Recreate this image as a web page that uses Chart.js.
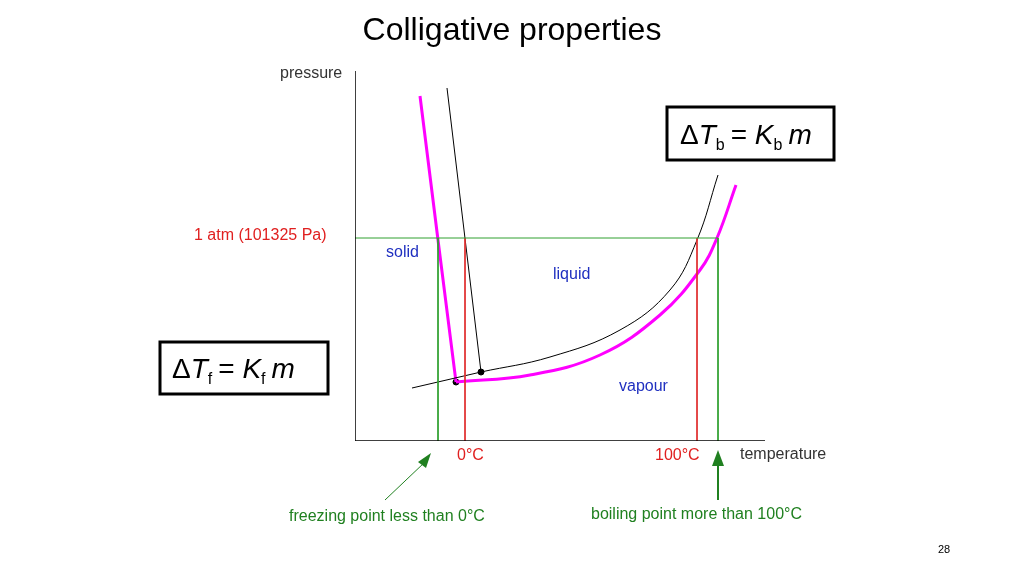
<!DOCTYPE html><html><head><meta charset="utf-8">
<script src="https://cdn.jsdelivr.net/npm/chart.js@4"></script>
<style>html,body{margin:0;background:#fff}#w{width:1024px;height:575px}</style></head><body><div id="w"><canvas id="c"></canvas></div>
<script>
// coordinates in diagram units (temperature right, pressure up)
const pureMelt=[{x:92,y:353},{x:126,y:69}];
const solnMelt=[{x:65,y:345},{x:83,y:201},{x:101,y:59}];
const sublim=[{x:57,y:53},{x:126,y:69}];
const pureVap=[{x:126,y:69},{x:195,y:84},{x:265,y:111},{x:315,y:151},{x:342,y:201},{x:363,y:266}];
const solnVap=[{x:101,y:59},{x:175,y:66},{x:245,y:86},{x:305,y:126},{x:345,y:171},{x:362,y:203},{x:381,y:256}];
const atmLine=[{x:0,y:203},{x:363,y:203}];
const greenV1=[{x:83,y:203},{x:83,y:0}];
const greenV2=[{x:363,y:203},{x:363,y:0}];
const redV1=[{x:110,y:203},{x:110,y:0}];
const redV2=[{x:342,y:203},{x:342,y:0}];
const yAxis=[{x:0,y:0},{x:0,y:370}];
const xAxis=[{x:0,y:0},{x:410,y:0}];
const triplePts=[{x:101,y:59},{x:126,y:69}];
const L=(d,c,w,t)=>({data:d,borderColor:c,borderWidth:w,showLine:true,pointRadius:0,tension:t||0,fill:false});
const ann={id:'ann',afterDraw(ch){const g=ch.ctx;g.save();
const t=(s,x,y,c,f,a)=>{g.fillStyle=c;g.font=f;g.textAlign=a||'left';g.textBaseline='middle';g.fillText(s,x,y);};
t('Colligative properties',512,31,'#000','32px "Liberation Sans"','center');
t('pressure',280,74,'#333','16px "Liberation Sans"');
t('1 atm (101325 Pa)',194,236,'#e02020','16px "Liberation Sans"');
t('solid',386,253,'#2030c0','16px "Liberation Sans"');
t('liquid',553,275,'#2030c0','16px "Liberation Sans"');
t('vapour',619,387,'#2030c0','16px "Liberation Sans"');
t('0°C',457,456,'#e02020','16px "Liberation Sans"');
t('100°C',655,456,'#e02020','16px "Liberation Sans"');
t('temperature',740,455,'#333','16px "Liberation Sans"');
t('freezing point less than 0°C',289,517,'#208020','16px "Liberation Sans"');
t('boiling point more than 100°C',591,515,'#208020','16px "Liberation Sans"');
t('28',938,550,'#000','11px "Liberation Sans"');
g.strokeStyle='#000';g.lineWidth=3;g.strokeRect(667,107,167,53);g.strokeRect(160,342,168,52);
const eq=(x,y,sub)=>{g.textBaseline='alphabetic';g.textAlign='left';g.fillStyle='#000';
 g.font='28px "Liberation Sans"';g.fillText('Δ',x,y);let p=x+g.measureText('Δ').width;
 g.font='italic 28px "Liberation Sans"';g.fillText('T',p,y);p+=g.measureText('T').width;
 g.font='16px "Liberation Sans"';g.fillText(sub,p,y+6);p+=g.measureText(sub).width+6;
 g.font='28px "Liberation Sans"';g.fillText('= ',p,y);p+=g.measureText('= ').width;
 g.font='italic 28px "Liberation Sans"';g.fillText('K',p,y);p+=g.measureText('K').width;
 g.font='16px "Liberation Sans"';g.fillText(sub,p,y+6);p+=g.measureText(sub).width+6;
 g.font='italic 28px "Liberation Sans"';g.fillText('m',p,y);};
eq(680,144,'b');eq(172,378,'f');
g.strokeStyle='#208020';g.fillStyle='#208020';g.lineWidth=1;
g.beginPath();g.moveTo(385,500);g.lineTo(425,462);g.stroke();
g.beginPath();g.moveTo(431,453);g.lineTo(418,462);g.lineTo(426,468);g.fill();
g.lineWidth=2;g.beginPath();g.moveTo(718,500);g.lineTo(718,462);g.stroke();
g.beginPath();g.moveTo(718,450);g.lineTo(712,466);g.lineTo(724,466);g.fill();
g.restore();}};
new Chart(document.getElementById('c'),{type:'scatter',
data:{datasets:[L(yAxis,'#000',1.5),L(xAxis,'#000',1.5),L(atmLine,'#30a030',1),L(greenV1,'#30a030',1),L(greenV2,'#30a030',1),
L(redV1,'#e03030',1),L(redV2,'#e03030',1),L(pureMelt,'#000',1),L(sublim,'#000',1),L(pureVap,'#000',1,0.4),
L(solnMelt,'#ff00ff',3),L(solnVap,'#ff00ff',3,0.4),
{data:triplePts,pointRadius:3,pointBackgroundColor:'#000',pointBorderColor:'#000',showLine:false}]},
options:{responsive:true,maintainAspectRatio:false,animation:false,layout:{padding:{left:355,right:259,top:71,bottom:134}},
plugins:{legend:{display:false},tooltip:{enabled:false}},
scales:{x:{type:'linear',min:0,max:410,display:false},y:{type:'linear',min:0,max:370,display:false}}},plugins:[ann]});
</script></body></html>
